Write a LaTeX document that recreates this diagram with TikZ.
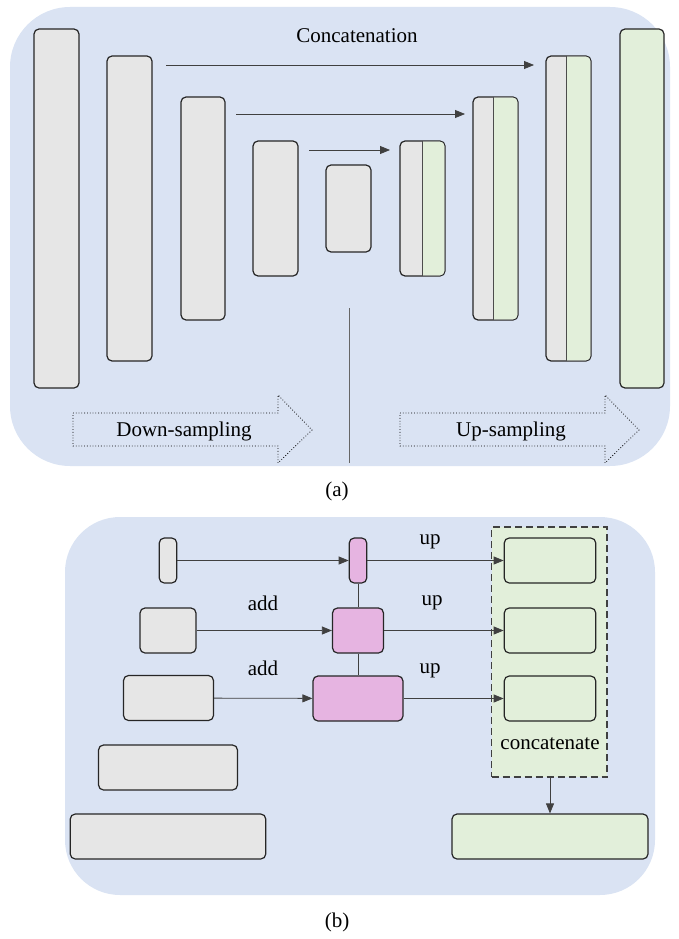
\documentclass[tikz,border=0pt]{standalone}
\usepackage{fontspec}
\setmainfont{LiberationSerif}[Extension=.ttf, UprightFont=*-Regular]
\usetikzlibrary{arrows.meta}

\definecolor{panelblue}{RGB}{218,227,243}
\definecolor{bargray}{RGB}{230,230,230}
\definecolor{bargreen}{RGB}{226,239,218}
\definecolor{barpink}{RGB}{230,180,225}

\begin{document}
\begin{tikzpicture}[x=1pt,y=-1pt,
  bar/.style={draw=black!85, line width=1.2pt, rounded corners=5pt, inner sep=0pt},
  graybar/.style={bar, fill=bargray},
  greenbar/.style={bar, fill=bargreen},
  pinkbar/.style={bar, fill=barpink},
  lbl/.style={font=\rmfamily\fontsize{21}{25}\selectfont, inner sep=0pt},
  link/.style={draw=black!75, line width=0.8pt},
  arr/.style={link, -{Triangle[length=10pt,width=8pt]}}]
\useasboundingbox (0,0) rectangle (678,939);

% (a) encoder / decoder
\fill[panelblue, rounded corners=60pt] (10,7) rectangle (670,466);

\node[graybar, minimum width=45, minimum height=359] (d1) at (56.5,208.5) {};
\node[graybar, minimum width=45, minimum height=305] (d2) at (129.5,208.5) {};
\node[graybar, minimum width=44, minimum height=223] (d3) at (203,208.5) {};
\node[graybar, minimum width=45, minimum height=135] (d4) at (275.5,208.5) {};
\node[graybar, minimum width=45, minimum height=87] (d5) at (348.5,208.5) {};

\node[graybar, minimum width=45, minimum height=135] (u1) at (422.5,208.5) {};
\fill[bargreen, rounded corners=4.4pt] (422.5,141.6) -- (444.4,141.6) -- (444.4,275.4) -- (422.5,275.4);
\draw[draw=black!70, line width=1pt] (422.5,141) -- (422.5,276);
\node[graybar, minimum width=45, minimum height=223] (u2) at (495.5,208.5) {};
\fill[bargreen, rounded corners=4.4pt] (493.5,97.6) -- (517.4,97.6) -- (517.4,319.4) -- (493.5,319.4);
\draw[draw=black!70, line width=1pt] (493.5,97) -- (493.5,320);
\node[graybar, minimum width=45, minimum height=305] (u3) at (568.5,208.5) {};
\fill[bargreen, rounded corners=4.4pt] (566.5,56.6) -- (590.4,56.6) -- (590.4,360.4) -- (566.5,360.4);
\draw[draw=black!70, line width=1pt] (566.5,56) -- (566.5,361);
\node[greenbar, minimum width=44, minimum height=359] (f) at (642,208.5) {};

\coordinate (s1) at (166,65);  \coordinate (e1) at (534,65);
\coordinate (s2) at (236,114); \coordinate (e2) at (465,114);
\coordinate (s3) at (309,150); \coordinate (e3) at (390,150);
\draw[arr] (s1) -- (e1);
\draw[arr] (s2) -- (e2);
\draw[arr] (s3) -- (e3);
\node[lbl] (concat) at (357,36) {Concatenation};

\coordinate (mtop) at (349,308); \coordinate (mbot) at (349,463);
\draw[draw=black!60, line width=0.8pt] (mtop) -- (mbot);

\draw[dotted, line width=0.8pt] (73,413) -- (278,413) -- (278,395) -- (312,430)
  -- (278,463) -- (278,446) -- (73,446) -- cycle;
\draw[dotted, line width=0.8pt] (400,413) -- (605,413) -- (605,395) -- (639,430)
  -- (605,463) -- (605,446) -- (400,446) -- cycle;
\node[lbl] (down) at (184,431) {Down-sampling};
\node[lbl] (upsmp) at (511,431) {Up-sampling};

\node[lbl] (capa) at (337,491) {(a)};

% (b) pyramid
\fill[panelblue, rounded corners=55pt] (65,517) rectangle (655,895);

\node[graybar, minimum width=17.5, minimum height=45] (l1) at (168,560.5) {};
\node[graybar, minimum width=56, minimum height=45] (l2) at (168,630.5) {};
\node[graybar, minimum width=90, minimum height=45] (l3) at (168.5,698) {};
\node[graybar, minimum width=139, minimum height=45] (l4) at (168,767.5) {};
\node[graybar, minimum width=195.5, minimum height=45] (l5) at (168,836.5) {};

\node[pinkbar, minimum width=17.5, minimum height=45] (p1) at (358,560.5) {};
\node[pinkbar, minimum width=51, minimum height=45] (p2) at (358,630.5) {};
\node[pinkbar, minimum width=90, minimum height=45] (p3) at (358,698.5) {};

\node[draw=black!75, dash pattern=on 7pt off 4pt, line width=1.5pt, fill=bargreen,
  minimum width=115.5, minimum height=250, inner sep=0pt] (cat) at (549.25,652) {};
\node[greenbar, minimum width=91.5, minimum height=45] (g1) at (550,560.5) {};
\node[greenbar, minimum width=91.5, minimum height=45] (g2) at (550,630.5) {};
\node[greenbar, minimum width=91.5, minimum height=45] (g3) at (550,698.5) {};
\node[lbl] (catlbl) at (550,744) {concatenate};
\node[greenbar, minimum width=196, minimum height=45] (out) at (550,836.5) {};

\draw[arr] (l1) -- (p1);
\draw[arr] (l2) -- (p2);
\draw[arr] (l3) -- (p3);
\draw[arr] (p1) -- (g1);
\draw[arr] (p2) -- (g2);
\draw[arr] (p3) -- (g3);
\draw[link] (p1) -- (p2);
\draw[link] (p2) -- (p3);
\draw[arr] (cat.south -| out.north) -- (out.north);

\node[lbl] (add1) at (263,603) {add};
\node[lbl] (add2) at (263,668) {add};
\node[lbl] (up1) at (430,542) {up};
\node[lbl] (up2) at (432,603) {up};
\node[lbl] (up3) at (430,671) {up};

\node[lbl] (capb) at (337,922) {(b)};
\end{tikzpicture}
\end{document}
